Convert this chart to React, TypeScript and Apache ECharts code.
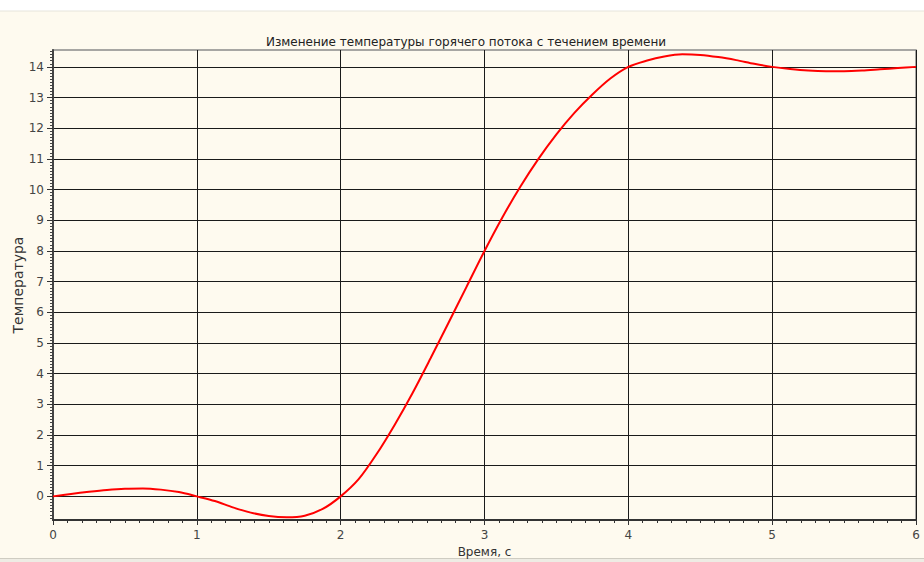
import React, { useEffect, useRef } from "react";
import * as echarts from "echarts";

const times = [
  0, 0.125, 0.25, 0.375, 0.5, 0.625, 0.75, 0.875,
  1, 1.125, 1.25, 1.375, 1.5, 1.625, 1.75, 1.875,
  2, 2.125, 2.25, 2.375, 2.5, 2.625, 2.75, 2.875,
  3, 3.125, 3.25, 3.375, 3.5, 3.625, 3.75, 3.875,
  4, 4.125, 4.25, 4.375, 4.5, 4.625, 4.75, 4.875,
  5, 5.125, 5.25, 5.375, 5.5, 5.625, 5.75, 5.875, 6,
];
const temps = [
  0, 0.08, 0.15, 0.21, 0.25, 0.26, 0.22, 0.14,
  0, -0.15, -0.36, -0.53, -0.64, -0.68, -0.63, -0.41,
  0, 0.56, 1.38, 2.33, 3.37, 4.5, 5.66, 6.83,
  8, 9.1, 10.1, 11.0, 11.8, 12.5, 13.1, 13.62,
  14, 14.2, 14.34, 14.41, 14.39, 14.32, 14.22, 14.1,
  14.0, 13.93, 13.88, 13.86, 13.86, 13.88, 13.92, 13.96, 14,
];
const yTicks = [0, 1, 2, 3, 4, 5, 6, 7, 8, 9, 10, 11, 12, 13, 14];
const xTicks = [0, 1, 2, 3, 4, 5, 6];

const titleText = "Изменение температуры горячего потока с течением времени";
const xName = "Время, с";
const yName = "Температура";

const Y_MIN = -0.77;
const Y_MAX = 14.55;

export default function App() {
  const ref = useRef<HTMLDivElement>(null);
  useEffect(() => {
    if (!ref.current) return;
    const chart = echarts.init(ref.current, null, { renderer: "svg" });
    const minorY: number[] = [];
    for (let i = -7; i <= 145; i++) {
      if (i % 10 !== 0) minorY.push(i / 10);
    }
    const font = "'DejaVu Sans', Verdana, sans-serif";
    chart.setOption({
      animation: false,
      backgroundColor: "#fefaef",
      textStyle: { fontFamily: font },
      title: {
        text: titleText,
        left: 461,
        top: 31,
        textAlign: "center",
        textStyle: { fontSize: 12, fontWeight: "normal", color: "#222", fontFamily: font },
      },
      graphic: [
        { type: "rect", shape: { x: 0, y: 0, width: 924, height: 11 }, style: { fill: "#ffffff" }, z: -10 },
        { type: "line", shape: { x1: 0, y1: 11, x2: 924, y2: 11 }, style: { stroke: "#e6e4dc", lineWidth: 1 }, z: -9 },
        { type: "rect", shape: { x: 0, y: 558, width: 924, height: 4 }, style: { fill: "#eeece4" }, z: -10 },
        { type: "line", shape: { x1: 0, y1: 558.5, x2: 924, y2: 558.5 }, style: { stroke: "#cfccc2", lineWidth: 1 }, z: -9 },
      ],
      grid: {
        left: 53,
        right: 8,
        top: 50,
        bottom: 42,
        containLabel: false,
        outerBoundsMode: "none",
        show: true,
        borderColor: "#8a8a8a",
        borderWidth: 1.5,
        backgroundColor: "#fefaef",
      },
      xAxis: {
        type: "value",
        min: 0,
        max: 6,
        interval: 1,
        name: xName,
        nameLocation: "middle",
        nameGap: 26,
        nameMoveOverlap: false,
        nameTextStyle: { fontSize: 12, color: "#333", fontFamily: font },
        axisLine: { show: true, onZero: false, lineStyle: { color: "#333", width: 2 } },
        axisTick: { show: true, inside: false, length: 5, lineStyle: { color: "#333" }, customValues: xTicks },
        minorTick: { show: true, splitNumber: 10, length: 3, lineStyle: { color: "#333" } },
        axisLabel: { show: true, margin: 9, fontSize: 12, color: "#444", fontFamily: font, customValues: xTicks },
        splitLine: { show: true, lineStyle: { color: "#1a1a1a", width: 1 } },
      },
      yAxis: [
        {
          type: "value",
          min: Y_MIN,
          max: Y_MAX,
          name: yName,
          nameLocation: "middle",
          nameGap: 28,
          nameMoveOverlap: false,
          nameTextStyle: { fontSize: 14, color: "#333", fontFamily: font },
          axisLine: { show: true, onZero: false, lineStyle: { color: "#444", width: 2 } },
          axisTick: { show: true, inside: false, length: 6, lineStyle: { color: "#333" }, customValues: yTicks },
          axisLabel: { show: true, margin: 9, fontSize: 12, color: "#444", fontFamily: font, customValues: yTicks },
          splitLine: { show: true, lineStyle: { color: "#1a1a1a", width: 1 } },
        },
        {
          type: "value",
          min: Y_MIN,
          max: Y_MAX,
          position: "left",
          offset: 0,
          axisLine: { show: false },
          axisTick: { show: true, inside: false, length: 3, lineStyle: { color: "#444" }, customValues: minorY },
          axisLabel: { show: false },
          splitLine: { show: false },
        },
      ],
      series: [
        {
          type: "line",
          data: times.map((t, i) => [t, temps[i]]),
          smooth: 0.3,
          showSymbol: false,
          symbol: "none",
          lineStyle: { color: "#ff0000", width: 2 },
          z: 5,
        },
      ],
    });
    return () => chart.dispose();
  }, []);
  return (
    <div
      ref={ref}
      style={{ position: "absolute", left: 0, top: 0, width: 924, height: 562 }}
    />
  );
}
